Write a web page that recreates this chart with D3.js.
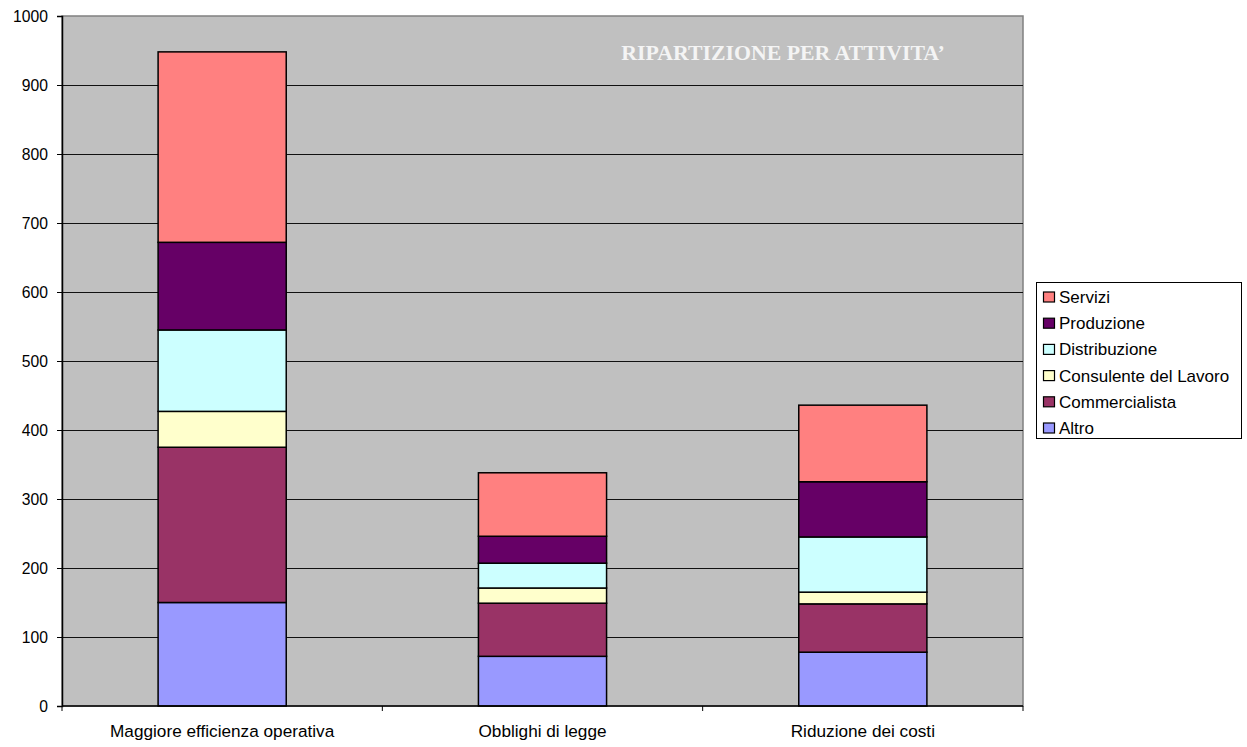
<!DOCTYPE html>
<html>
<head>
<meta charset="utf-8">
<script src="https://cdn.jsdelivr.net/npm/d3@7"></script>
<style>
  body { margin: 0; background: #fff; }
  svg { display: block; font-family: Arial, "Liberation Sans", sans-serif; }
</style>
</head>
<body>
<div id="chart"></div>
<script>
// categories on the x axis
const categories = ["Maggiore efficienza operativa", "Obblighi di legge", "Riduzione dei costi"];
// series, bottom to top in the stack
const seriesNames = ["Altro", "Commercialista", "Consulente del Lavoro", "Distribuzione", "Produzione", "Servizi"];
const altro          = [150, 72, 78];
const commercialista = [225, 77, 70];
const consulente     = [52, 22, 17];
const distribuzione  = [118, 36, 80];
const produzione     = [127, 39, 80];
const servizi        = [276, 92, 111];
const yTicks = [0, 100, 200, 300, 400, 500, 600, 700, 800, 900, 1000];
const seriesColors = ["#9999FF", "#993366", "#FFFFCC", "#CCFFFF", "#660066", "#FF8080"];
const chartTitle = "RIPARTIZIONE PER ATTIVITA\u2019";

const W = 1247, H = 747;
let margin = {top: 16, right: 224, bottom: 41, left: 62};
let width = W - margin.left - margin.right,
    height = H - margin.top - margin.bottom;

let allSeries = [altro, commercialista, consulente, distribuzione, produzione, servizi];
let rows = categories.map((c, i) => {
  let r = {cat: c};
  seriesNames.forEach((s, j) => { r[s] = allSeries[j][i]; });
  return r;
});
let stacked = d3.stack().keys(seriesNames)(rows);

let svg = d3.select("#chart").append("svg")
    .attr("width", W)
    .attr("height", H);

let g = svg.append("g")
    .attr("transform", "translate(" + margin.left + "," + margin.top + ")");

let x = d3.scaleBand()
    .domain(categories)
    .range([0, width])
    .paddingInner(0.6)
    .paddingOuter(0.3);

let y = d3.scaleLinear()
    .domain([0, 1000])
    .range([height, 0]);

// plot area
g.append("rect")
    .attr("width", width)
    .attr("height", height)
    .attr("fill", "#C0C0C0")
    .attr("stroke", "#808080")
    .attr("stroke-width", 1.5);

// gridlines
g.selectAll(".grid")
  .data(yTicks.filter(d => d > 0 && d < 1000))
 .enter().append("line")
    .attr("class", "grid")
    .attr("x1", 0)
    .attr("x2", width)
    .attr("y1", d => Math.round(y(d)) + 0.5)
    .attr("y2", d => Math.round(y(d)) + 0.5)
    .attr("stroke", "#111")
    .attr("stroke-width", 1);

// bars
let layer = g.selectAll(".layer")
  .data(stacked)
 .enter().append("g")
    .attr("class", "layer")
    .attr("fill", (d, i) => seriesColors[i]);

layer.selectAll("rect")
  .data(d => d)
 .enter().append("rect")
    .attr("x", d => x(d.data.cat))
    .attr("y", d => y(d[1]))
    .attr("width", x.bandwidth())
    .attr("height", d => y(d[0]) - y(d[1]))
    .attr("stroke", "#000")
    .attr("stroke-width", 1.5);

// y axis
let yAxis = d3.axisLeft(y)
    .tickValues(yTicks)
    .tickSize(5)
    .tickPadding(9)
    .tickFormat(d3.format("d"));

let yg = g.append("g")
    .attr("class", "y axis")
    .call(yAxis);
yg.select(".domain").attr("stroke", "#000").attr("stroke-width", 1.5);
yg.selectAll("text").style("font-size", "15.7px").attr("fill", "#000");

// x axis, ticks between categories
let step = width / categories.length;
let xg = g.append("g")
    .attr("transform", "translate(0," + height + ")");
xg.append("line")
    .attr("x1", 0).attr("x2", width)
    .attr("stroke", "#000").attr("stroke-width", 1.5);
xg.selectAll(".xtick")
  .data(d3.range(categories.length + 1))
 .enter().append("line")
    .attr("x1", i => i * step)
    .attr("x2", i => i * step)
    .attr("y1", 0)
    .attr("y2", 5)
    .attr("stroke", "#000");
xg.selectAll(".xlabel")
  .data(categories)
 .enter().append("text")
    .attr("x", d => x(d) + x.bandwidth() / 2)
    .attr("y", 31)
    .attr("text-anchor", "middle")
    .style("font-size", "17.2px")
    .text(d => d);

// title inside plot
g.append("text")
    .attr("x", 721)
    .attr("y", 44)
    .attr("text-anchor", "middle")
    .attr("fill", "#f4f4f4")
    .style("font-family", "'Liberation Serif', 'Times New Roman', serif")
    .style("font-weight", "bold")
    .style("font-size", "21.8px")
    .text(chartTitle);

// legend
let legend = svg.append("g")
    .attr("transform", "translate(1036,282)");
legend.append("rect")
    .attr("x", 0.5)
    .attr("y", 0.5)
    .attr("width", 205)
    .attr("height", 156)
    .attr("fill", "#fff")
    .attr("stroke", "#000");

let legendItems = seriesNames.slice().reverse();
let item = legend.selectAll(".item")
  .data(legendItems)
 .enter().append("g")
    .attr("class", "item")
    .attr("transform", (d, i) => "translate(7," + (15 + i * 26.2) + ")");
item.append("rect")
    .attr("x", 0.5)
    .attr("y", -5)
    .attr("width", 11)
    .attr("height", 10)
    .attr("fill", d => seriesColors[seriesNames.indexOf(d)])
    .attr("stroke", "#000")
    .attr("stroke-width", 1.2);
item.append("text")
    .attr("x", 16)
    .attr("y", 0)
    .attr("dy", "0.35em")
    .style("font-size", "17px")
    .text(d => d);
</script>
</body>
</html>
